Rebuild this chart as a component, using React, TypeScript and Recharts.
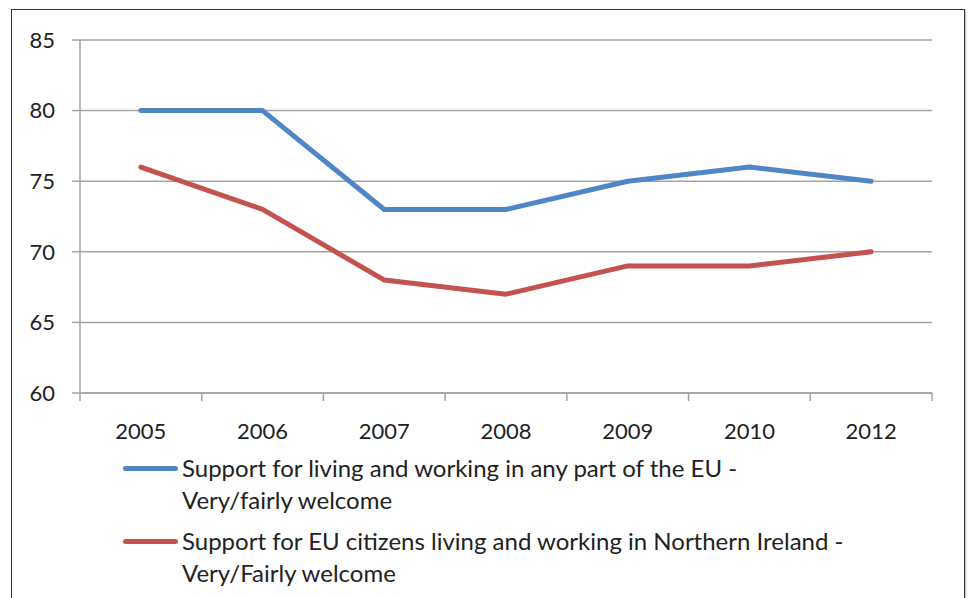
import { CartesianGrid, Legend, Line, LineChart, XAxis, YAxis } from "recharts"

const years = ["2005", "2006", "2007", "2008", "2009", "2010", "2012"]
const anyPartEU = [80, 80, 73, 73, 75, 76, 75]
const inNorthernIreland = [76, 73, 68, 67, 69, 69, 70]
const yTicks = [60, 65, 70, 75, 80, 85]

const series = [
  { key: "anyPart", color: "#4f86c6", lines: ["Support for living and working in any part of the EU -", "Very/fairly welcome"] },
  { key: "northernIreland", color: "#c4524f", lines: ["Support for EU citizens living and working in Northern Ireland -", "Very/Fairly welcome"] },
]

const data = years.map((y, i) => ({ year: y, anyPart: anyPartEU[i], northernIreland: inNorthernIreland[i] }))

const FONT = "Lato, 'Open Sans', sans-serif"
const AXIS = "#a3a3a3"

function YearTick(props: any) {
  const { x, y, payload, index, visibleTicksCount } = props
  const half = payload.offset || 0
  return (
    <g>
      <line x1={x - half} x2={x - half} y1={y} y2={y + 8} stroke={AXIS} strokeWidth={1.5} />
      {index === visibleTicksCount - 1 && (
        <line x1={x + half} x2={x + half} y1={y} y2={y + 8} stroke={AXIS} strokeWidth={1.5} />
      )}
      <text x={x} y={y + 37} textAnchor="middle" dominantBaseline="central" fontSize={22} fill="#222" fontFamily={FONT}>
        {payload.value}
      </text>
    </g>
  )
}

function LegendBox() {
  return (
    <div style={{ fontFamily: FONT, fontSize: 24, color: "#222" }}>
      {series.map((s) => (
        <div key={s.key} style={{ display: "flex", alignItems: "flex-start", marginBottom: 9 }}>
          <div style={{ width: 55, height: 5, borderRadius: 3, background: s.color, marginTop: 14, marginRight: 4 }} />
          <div style={{ lineHeight: "32px" }}>
            {s.lines.map((l) => (
              <div key={l}>{l}</div>
            ))}
          </div>
        </div>
      ))}
    </div>
  )
}

export default function App() {
  return (
    <div style={{ position: "absolute", left: 0, top: 0, width: 969, height: 598, background: "#fff", overflow: "hidden" }}>
      <div
        style={{
          position: "absolute",
          left: 11,
          top: 9,
          width: 952,
          height: 620,
          border: "1.5px solid #333",
          boxShadow: "1px 1px 2px rgba(0,0,0,0.3)",
        }}
      />
      <div style={{ position: "absolute", left: 0, top: 0 }}>
        <LineChart width={969} height={598} data={data} margin={{ top: 40, right: 37, bottom: 145, left: 0 }}>
          <CartesianGrid vertical={false} stroke={AXIS} strokeWidth={1.5} />
          <XAxis
            dataKey="year"
            scale="band"
            height={60}
            tickLine={false}
            tickSize={0}
            tickMargin={0}
            stroke={AXIS}
            strokeWidth={1.5}
            tick={<YearTick />}
            interval={0}
          />
          <YAxis
            width={80}
            domain={[60, 85]}
            ticks={yTicks}
            tickSize={8}
            tickMargin={17}
            stroke={AXIS}
            strokeWidth={1.5}
            tick={{ fontSize: 22, fill: "#222", fontFamily: FONT }}
          />
          {series.map((s) => (
            <Line
              key={s.key}
              dataKey={s.key}
              stroke={s.color}
              strokeWidth={5}
              dot={false}
              activeDot={false}
              strokeLinejoin="round"
              strokeLinecap="round"
              isAnimationActive={false}
            />
          ))}
          <Legend
            layout="vertical"
            align="center"
            verticalAlign="middle"
            wrapperStyle={{ left: 123, top: 452, width: "auto" }}
            content={<LegendBox />}
          />
        </LineChart>
      </div>
    </div>
  )
}
